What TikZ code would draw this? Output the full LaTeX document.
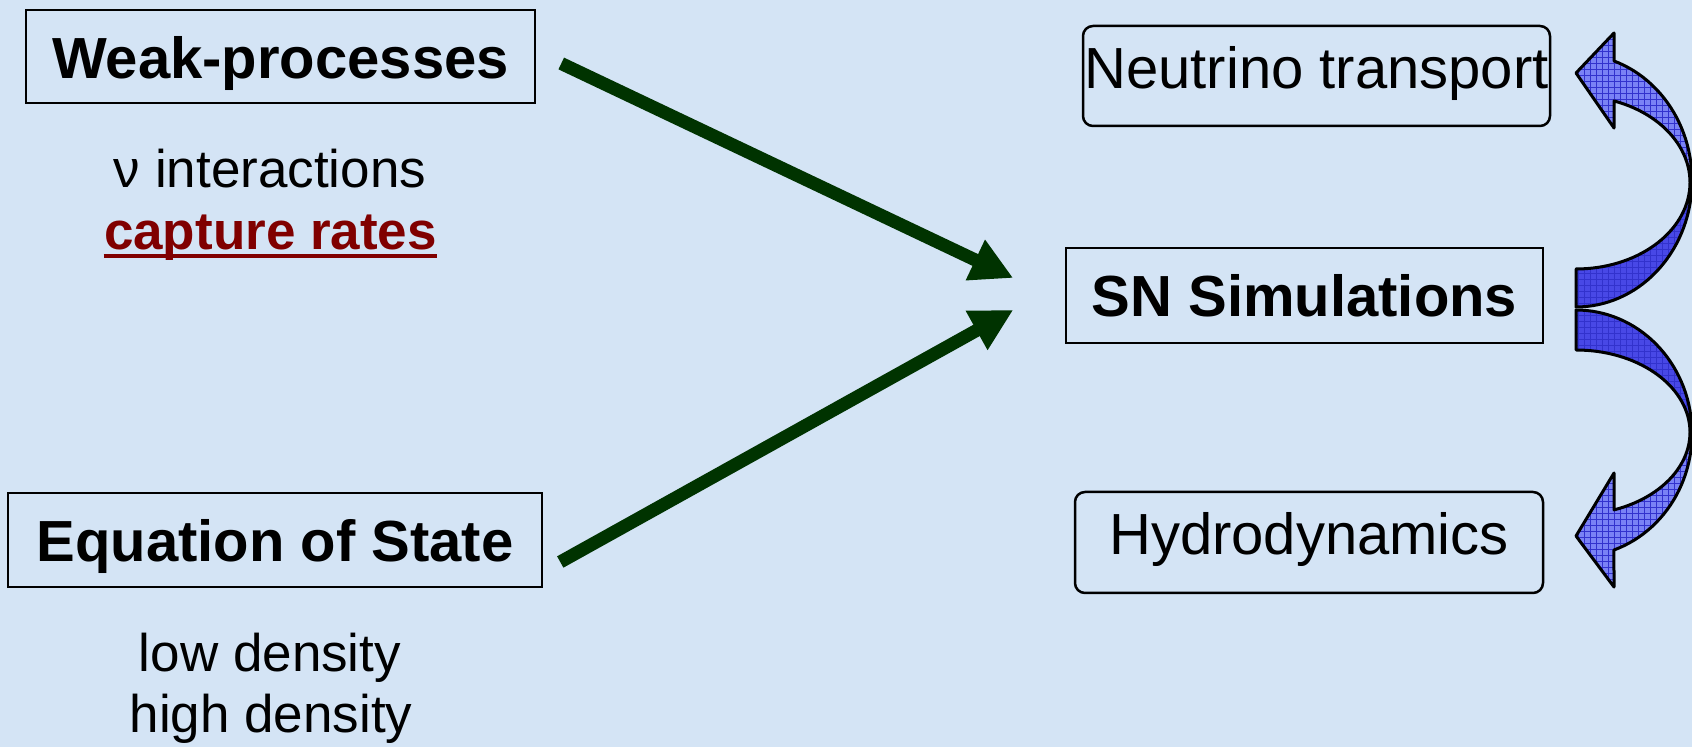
\documentclass[tikz,border=0pt]{standalone}
\usepackage{fontspec}
\setmainfont{Liberation Sans}
\usetikzlibrary{arrows.meta,patterns}
\definecolor{bgblue}{RGB}{212,228,245}
\definecolor{dgreen}{RGB}{0,51,0}
\definecolor{dred}{RGB}{128,0,0}
\definecolor{blight}{RGB}{122,130,245}
\definecolor{bdark}{RGB}{72,72,230}
\definecolor{bgrid}{RGB}{50,50,205}
\newcommand\TopArrowPath{(1576,269) -- plot[domain=90:-70.5,samples=60] ({1576+114*cos(\x)},{182.5+86.5*sin(\x)}) -- (1614,128) -- (1576,73) -- (1614,33) -- (1614,61) -- plot[domain=-70.9:90,samples=60] ({1576+116*cos(\x)},{180.5+126.5*sin(\x)}) -- cycle}
\newcommand\BotArrowPath{(1576,310) -- plot[domain=-90:70.9,samples=60] ({1576+116*cos(\x)},{433.4+123.4*sin(\x)}) -- (1614,587) -- (1576,536) -- (1614,473) -- (1614,510) -- plot[domain=70.5:-90,samples=60] ({1576+114*cos(\x)},{432.3+82.3*sin(\x)}) -- cycle}
\tikzset{
  boxsq/.style={draw, line width=1.25pt, inner sep=0pt, text depth=0pt, font=\fontsize{29}{34}\selectfont\bfseries},
  boxrd/.style={draw, line width=1.25pt, rounded corners=5pt, inner sep=0pt, text depth=0pt, font=\fontsize{29}{34}\selectfont},
  subtxt/.style={inner sep=0pt, anchor=base, font=\fontsize{26.5}{32}\selectfont},
  subbold/.style={inner sep=0pt, anchor=base, text=dred, font=\fontsize{26.5}{32}\selectfont\bfseries},
  garrow/.style={draw=dgreen, line width=6.5pt, -{Triangle[length=21pt,width=21pt]}},
  bluearrow/.style={draw=black, line width=1.5pt, line join=round},
}
\begin{document}
\begin{tikzpicture}[x=0.5pt,y=-0.5pt]
\useasboundingbox (0,0) rectangle (1692,747);
\fill[bgblue] (0,0) rectangle (1692,747);
\clip (0,0) rectangle (1692,747);

% boxes
\node[boxsq, minimum width=254.5pt, minimum height=46.5pt, text height=22.5pt] (weak) at (280.5,56.5) {Weak-processes};
\node[boxsq, minimum width=267pt, minimum height=47pt, text height=22pt] (eos) at (275,540) {Equation of State};
\node[boxrd, minimum width=233.5pt, minimum height=50pt, text height=13pt] (neu) at (1316.5,76) {Neutrino transport};
\node[boxsq, minimum width=238.5pt, minimum height=47.5pt, text height=21.5pt] (sn) at (1304.5,295.5) {SN Simulations};
\node[boxrd, minimum width=234pt, minimum height=50.5pt, text height=12.5pt] (hyd) at (1309,542.5) {Hydrodynamics};

% texts
\node[subtxt] (nu) at (270,188) {ν interactions};
\node[subbold] (cap) at (270.5,250) {capture rates};
\draw[dred, line width=2pt] ([yshift=-3pt]cap.base west) -- ([yshift=-3pt]cap.base east);
\node[subtxt] (low) at (270,672) {low density};
\node[subtxt] (high) at (271,733) {high density};

% green arrows
\coordinate (t1) at ([xshift=-25.75pt,yshift=8.75pt]sn.west);
\coordinate (t2) at ([xshift=-25.75pt,yshift=-7.25pt]sn.west);
\draw[garrow] ([xshift=12.5pt,yshift=-3.5pt]weak.east) -- (t1);
\draw[garrow] ([xshift=8.5pt,yshift=-11pt]eos.east) -- (t2);

% blue curved arrows
\fill[blight] \TopArrowPath;
\begin{scope}
  \clip (1500,181) rectangle (1700,320);
  \fill[bdark] \TopArrowPath;
\end{scope}
\path[pattern=grid, pattern color=bgrid] \TopArrowPath;
\path[bluearrow] \TopArrowPath;

\fill[blight] \BotArrowPath;
\begin{scope}
  \clip (1500,300) rectangle (1700,433);
  \fill[bdark] \BotArrowPath;
\end{scope}
\path[pattern=grid, pattern color=bgrid] \BotArrowPath;
\path[bluearrow] \BotArrowPath;
\end{tikzpicture}
\end{document}
